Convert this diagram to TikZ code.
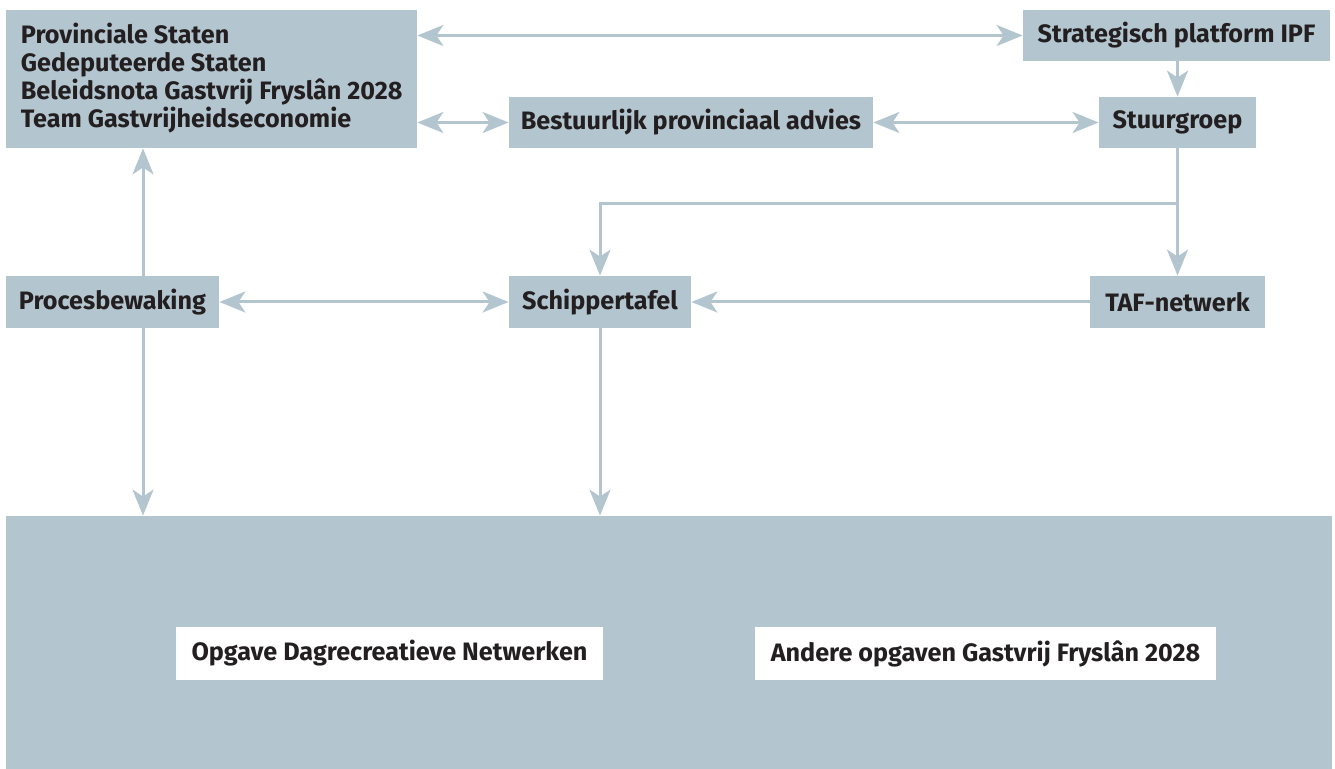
\documentclass[tikz,border=0pt]{standalone}
\usepackage{fontspec}
\setmainfont{Fira Sans}
\usetikzlibrary{arrows.meta}
\definecolor{boxc}{HTML}{B3C5CF}
\definecolor{txtc}{HTML}{231F20}
\tikzset{
  box/.style={fill=boxc, inner sep=0pt, text=txtc, font=\bfseries\fontsize{12.6}{14}\selectfont, anchor=center},
  wbox/.style={fill=white, inner sep=0pt, text=txtc, font=\bfseries\fontsize{12.6}{14}\selectfont, anchor=center},
  conn/.style={draw=boxc, line width=1.5pt},
  tip/.tip={Stealth[length=13pt, width=10.5pt, inset=3.5pt]},
  arr/.style={conn, -tip},
  darr/.style={conn, tip-tip}
}
\begin{document}
\begin{tikzpicture}[x=0.5pt, y=-0.5pt]
\useasboundingbox (0,0) rectangle (1335,769);
% boxes
\node[box, minimum width=205.5pt, minimum height=69pt] (A) at (211.5,79) {};
\node[box, anchor=west, align=left, fill=none] (At) at (20.5,78.5) {Provinciale Staten\\Gedeputeerde Staten\\Beleidsnota Gastvrij Fryslân 2028\\Team Gastvrijheidseconomie};
\node[box, minimum width=153.5pt, minimum height=25.5pt] (S) at (1176.5,35.5) {Strategisch platform IPF};
\node[box, minimum width=182pt, minimum height=25.5pt] (B) at (691,122.5) {Bestuurlijk provinciaal advies};
\node[box, minimum width=78.5pt, minimum height=25.5pt] (G) at (1177.5,122.5) {Stuurgroep};
\node[box, minimum width=106.5pt, minimum height=26pt] (P) at (112.5,302) {Procesbewaking};
\node[box, minimum width=91pt, minimum height=26pt] (T) at (600,302) {Schippertafel};
\node[box, minimum width=87.5pt, minimum height=26pt] (N) at (1177.5,302) {TAF-netwerk};
\node[box, minimum width=663pt, minimum height=126.5pt] (Big) at (669,642.5) {};
\node[wbox, minimum width=213.5pt, minimum height=26.5pt] (W1) at (389.5,653.5) {Opgave Dagrecreatieve Netwerken};
\node[wbox, minimum width=230.5pt, minimum height=26.5pt] (W2) at (985.5,653.5) {Andere opgaven Gastvrij Fryslân 2028};
% helper coordinates
\coordinate (X) at (143,0);
\coordinate (J) at (1177.5,204);
% connectors
\draw[darr] (S.west -| A.east) -- (S.west);
\draw[darr] (B.west -| A.east) -- (B.west);
\draw[darr] (B.east) -- (G.west);
\draw[arr] (G.north |- S.south) -- (G.north);
\draw[arr] (G.south) -- (N.north);
\draw[arr] (J) -| (T.north);
\draw[arr] (N.west) -- (T.east);
\draw[darr] (P.east) -- (T.west);
\draw[arr] (P.north -| X) -- (A.south -| X);
\draw[arr] (P.south -| X) -- (Big.north -| X);
\draw[arr] (T.south) -- (Big.north -| T.south);
\end{tikzpicture}
\end{document}
